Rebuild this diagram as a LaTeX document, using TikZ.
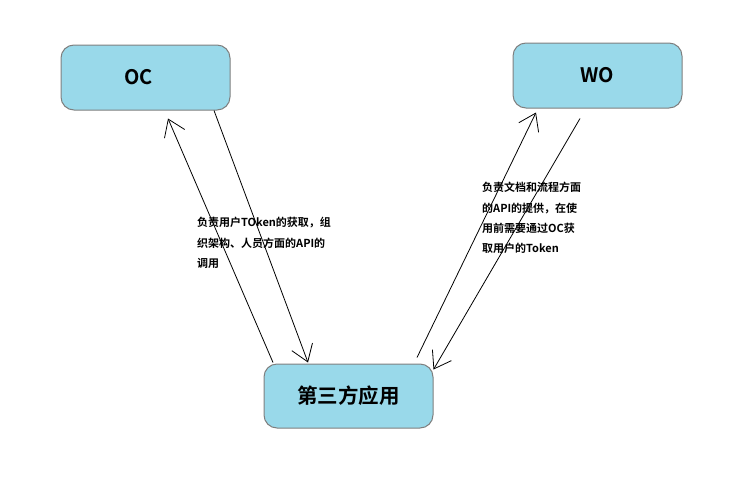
\documentclass[tikz,border=0pt]{standalone}
\usepackage{fontspec}
\setmainfont{Noto Sans CJK SC}[BoldFont={* Bold}]
\usetikzlibrary{arrows.meta}
\definecolor{boxfill}{HTML}{99D9EA}
\definecolor{boxline}{HTML}{7F7F7F}
\tikzset{
  box/.style={draw=boxline, line width=1pt, fill=boxfill, rounded corners=13pt,
    minimum width=169pt, minimum height=65pt, inner sep=0pt, font=\bfseries},
  conn/.style={line width=0.8pt, -{Straight Barb[length=16pt,width=22pt,line width=0.8pt]}},
  lbl/.style={font=\fontsize{11}{20.3}\selectfont\bfseries, align=left, inner sep=0pt, anchor=west}
}
\begin{document}
\begin{tikzpicture}[x=1pt,y=-1pt]
\useasboundingbox (0,0) rectangle (749,479);
\node[box, font=\fontsize{20}{24}\selectfont\bfseries] (oc) at (145.5,77.5) {OC\kern14pt};
\node[box, font=\fontsize{20}{24}\selectfont\bfseries] (wo) at (597.5,75.5) {WO};
\node[box, minimum height=64pt, font=\fontsize{20.5}{24}\selectfont\bfseries] (app) at (348.5,396) {第三方应用};
\draw[conn] ([xshift=-75.5pt,yshift=1pt]app.north) -- ([xshift=22.5pt,yshift=-8pt]oc.south);
\draw[conn] ([xshift=68.5pt]oc.south) -- ([xshift=-40.5pt,yshift=1pt]app.north);
\draw[conn] ([xshift=68.5pt,yshift=6pt]app.north) -- ([xshift=-61.5pt,yshift=-4pt]wo.south);
\draw[conn] ([xshift=-17.5pt,yshift=-10pt]wo.south) -- ([yshift=-6pt]app.north east);
\node[lbl] (l1) at (197,243) {负责用户TOken的获取，组\\织架构、人员方面的API的\\调用};
\node[lbl] (l2) at (482,218) {负责文档和流程方面\\的API的提供，在使\\用前需要通过OC获\\取用户的Token};
\end{tikzpicture}
\end{document}
